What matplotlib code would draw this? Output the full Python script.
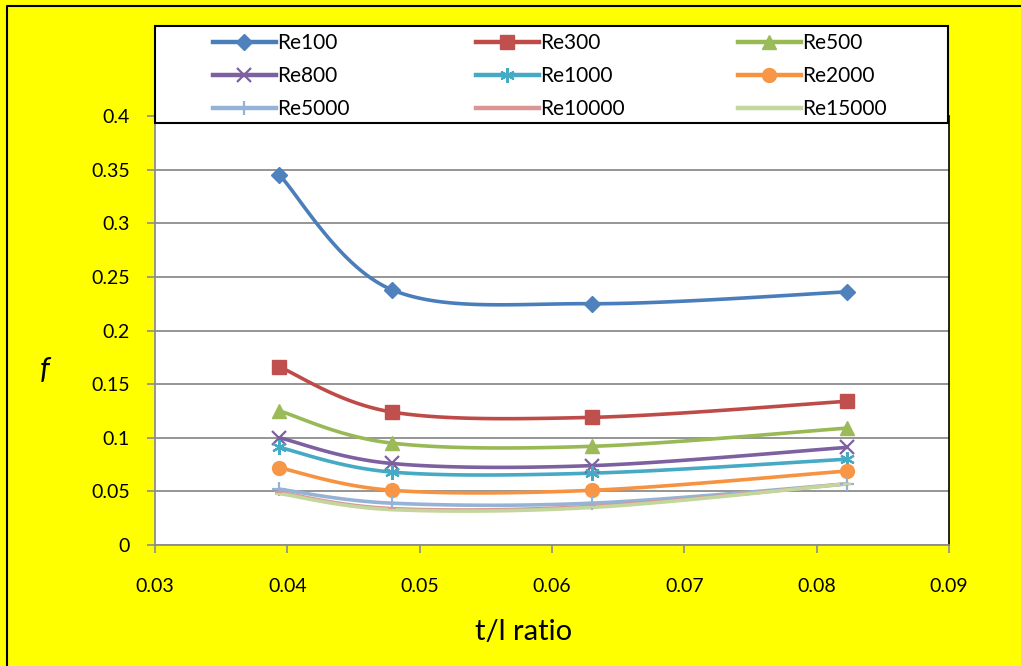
import numpy as np
import matplotlib
matplotlib.use("Agg")
import matplotlib.pyplot as plt
from matplotlib.patches import Rectangle
from matplotlib.lines import Line2D

plt.rcParams['font.family'] = ['Lato', 'DejaVu Sans']

# ---- data ----
tl_ratio = [0.0394, 0.0479, 0.0630, 0.0823]
series_names = ["Re100", "Re300", "Re500", "Re800", "Re1000", "Re2000",
                "Re5000", "Re10000", "Re15000"]
re100 = [0.345, 0.238, 0.225, 0.236]
re300 = [0.166, 0.124, 0.119, 0.134]
re500 = [0.125, 0.095, 0.092, 0.109]
re800 = [0.100, 0.076, 0.074, 0.091]
re1000 = [0.091, 0.068, 0.067, 0.080]
re2000 = [0.072, 0.051, 0.051, 0.069]
re5000 = [0.052, 0.039, 0.039, 0.057]
re10000 = [0.049, 0.034, 0.036, 0.057]
re15000 = [0.048, 0.033, 0.035, 0.057]
series_values = [re100, re300, re500, re800, re1000, re2000, re5000, re10000, re15000]
y_ticks = [0, 0.05, 0.1, 0.15, 0.2, 0.25, 0.3, 0.35, 0.4]
y_tick_labels = ["0", "0.05", "0.1", "0.15", "0.2", "0.25", "0.3", "0.35", "0.4"]
x_ticks = [0.03, 0.04, 0.05, 0.06, 0.07, 0.08, 0.09]
x_tick_labels = ["0.03", "0.04", "0.05", "0.06", "0.07", "0.08", "0.09"]

# ---- styles ----
line_colors = ["#4A7EBB", "#BE4B48", "#98B954", "#7D60A0", "#46AAC5", "#F69240",
               "#95B3D7", "#D99694", "#C3D69B"]
marker_face = ["#4F81BD", "#C0504D", "#9BBB59", "#7D60A0", "#4BACC6", "#F79646",
               "#95B3D7", "#D99694", "#C3D69B"]
markers = ["D", "s", "^", "x", (6, 2, 0), "o", "+", "_", "_"]
msizes = [8, 9.5, 9.5, 9.5, 10.5, 10, 10.5, 6, 6]


def smooth(x, y, n=40):
    # Catmull-Rom style Bezier smoothing (like spreadsheet smoothed lines)
    x = np.asarray(x, float)
    y = np.asarray(y, float)
    P = np.column_stack([x, y])
    out = []
    for i in range(len(P) - 1):
        p0 = P[i - 1] if i > 0 else P[i]
        p1 = P[i]
        p2 = P[i + 1]
        p3 = P[i + 2] if i + 2 < len(P) else P[i + 1]
        c1 = p1 + (p2 - p0) / 6.0
        c2 = p2 - (p3 - p1) / 6.0
        t = np.linspace(0, 1, n)[:, None]
        b = ((1 - t) ** 3) * p1 + 3 * ((1 - t) ** 2) * t * c1 + 3 * (1 - t) * t ** 2 * c2 + t ** 3 * p2
        out.append(b if i == 0 else b[1:])
    B = np.vstack(out)
    return B[:, 0], B[:, 1]


W, H = 1021, 666
fig = plt.figure(figsize=(W / 100, H / 100), dpi=100, facecolor="#FFFF00")

# figure border (top and left only visible)
fig.lines.append(Line2D([7 / W, 7 / W, 1.0], [0.0, 1 - 6 / H, 1 - 6 / H],
                        transform=fig.transFigure, color="black", linewidth=1.5,
                        zorder=0))

L, R, T, Bt = 155, 949, 116, 545
ax = fig.add_axes([L / W, 1 - Bt / H, (R - L) / W, (Bt - T) / H])
ax.set_facecolor("white")
ax.set_xlim(0.03, 0.09)
ax.set_ylim(0, 0.4)

ax.set_yticks(y_ticks)
ax.set_yticklabels(y_tick_labels)
ax.set_xticks(x_ticks)
ax.set_xticklabels(x_tick_labels)
ax.grid(axis="y", color="#8C8C8C", linewidth=1.3)
ax.set_axisbelow(True)
ax.tick_params(axis="both", direction="out", length=6, width=1.2, color="#8C8C8C",
               labelsize=14)
ax.tick_params(axis="y", pad=12)
ax.tick_params(axis="x", pad=18)
for s in ["left", "bottom"]:
    ax.spines[s].set_color("#8C8C8C")
    ax.spines[s].set_linewidth(1.3)
ax.spines["top"].set_visible(False)
ax.spines["right"].set_color("black")
ax.spines["right"].set_linewidth(1.2)

handles = []
for name, vals, lc, mf, mk, ms in zip(series_names, series_values, line_colors,
                                      marker_face, markers, msizes):
    sx, sy = smooth(tl_ratio, vals)
    ax.plot(sx, sy, color=lc, linewidth=2.6, solid_capstyle="round", zorder=3)
    filled = mk in ("D", "s", "^", "o")
    ax.plot(tl_ratio, vals, linestyle="none", marker=mk, markersize=ms,
            markerfacecolor=mf, markeredgecolor=mf if filled else lc,
            markeredgewidth=1.0 if filled else 1.6, zorder=4)
    handles.append(Line2D([], [], color=lc, linewidth=3.2, marker=mk, markersize=ms,
                          markerfacecolor=mf, markeredgecolor=mf if filled else lc,
                          markeredgewidth=1.0 if filled else 1.6, label=name))

ax.set_xlabel("t/l ratio", fontsize=21)
ax.xaxis.set_label_coords((524 - L) / (R - L), -(632 - Bt) / (Bt - T) - 0.0)
ax.xaxis.label.set_verticalalignment("center")
fig.text(45 / W, 1 - 370 / H, "f", fontsize=22, style="italic", ha="center", va="center")

# legend box
fig.patches.append(Rectangle((155 / W, 1 - 123 / H), (948 - 155) / W, (123 - 26) / H,
                             transform=fig.transFigure, facecolor="white",
                             edgecolor="black", linewidth=1.5, zorder=5))
col_x = [213, 476, 738]
for j, cx in enumerate(col_x):
    hs = [handles[j], handles[j + 3], handles[j + 6]]
    leg = fig.legend(handles=hs, ncol=1, loc="center left",
                     bbox_to_anchor=(cx / W, 1 - 76 / H), frameon=False,
                     fontsize=15, handlelength=3.0, handletextpad=0.1,
                     labelspacing=0.62, borderaxespad=0, borderpad=0)
    leg.set_zorder(6)

fig.savefig("out.png", dpi=100, facecolor=fig.get_facecolor())
